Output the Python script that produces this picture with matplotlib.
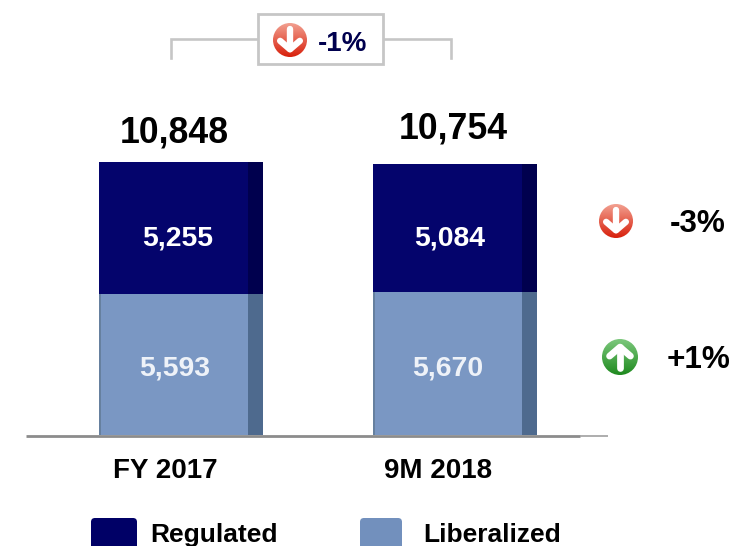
import matplotlib
matplotlib.use("Agg")
import matplotlib.pyplot as plt
import numpy as np
from matplotlib.patches import Circle, Rectangle, FancyBboxPatch

plt.rcParams['font.family'] = ['Liberation Sans', 'DejaVu Sans']

W, H = 734, 546

# data
periods = ["FY 2017", "9M 2018"]
regulated = [5255, 5084]
liberalized = [5593, 5670]
totals = [10848, 10754]
changes = ["-3%", "+1%"]
total_change = "-1%"

NAVY = "#04046c"
NAVY_DARK = "#00004e"
LIGHT = "#7a97c3"
LIGHT_DARK = "#4e6a8e"
GREY = "#c6c6c6"

fig = plt.figure(figsize=(W / 100, H / 100), dpi=100)

# bars live on a real value scale, 273 px = 10,848
ax = fig.add_axes([26 / W, (H - 435) / H, 582 / W, 273 / H])
ax.set_xlim((26 - 181) / 274, (608 - 181) / 274)
ax.set_ylim(0, totals[0])
ax.axis("off")

x = np.arange(len(periods))
bar_w = 164 / 274
strip_w = 15 / 274
ax.bar(x, liberalized, bar_w, color=LIGHT, zorder=2, clip_on=False)
ax.bar(x, regulated, bar_w, bottom=liberalized, color=NAVY, zorder=2, clip_on=False)
# darker side strip gives the fake 3d look
strip_x = x + bar_w / 2 - strip_w / 2
ax.bar(strip_x, liberalized, strip_w, color=LIGHT_DARK, zorder=3, clip_on=False)
ax.bar(strip_x, regulated, strip_w, bottom=liberalized, color=NAVY_DARK, zorder=3, clip_on=False)
# soft left edge
ax.bar(x - bar_w / 2 + 1 / 274, liberalized, 2 / 274, color="#66809f", zorder=3, clip_on=False)

# overlay in pixel coordinates for the annotations
ov = fig.add_axes([0, 0, 1, 1], zorder=5)
ov.axis("off")
ov.patch.set_alpha(0)

# baseline
ov.plot([26, 580], [435.5, 435.5], color="#8c8c8c", lw=2.0, solid_capstyle="butt")
ov.plot([580, 608], [435.5, 435.5], color="#a0a0a0", lw=1.2, solid_capstyle="butt")


def icon(cx, cy, r, top, bottom, up):
    # round button with vertical gradient and a white arrow
    grad = np.linspace(0, 1, 64).reshape(-1, 1)
    top_rgb = np.array(matplotlib.colors.to_rgb(top))
    bot_rgb = np.array(matplotlib.colors.to_rgb(bottom))
    img = top_rgb + (bot_rgb - top_rgb) * grad[..., None]
    im = ov.imshow(img, extent=(cx - r, cx + r, cy + r, cy - r), aspect="auto",
                   interpolation="bilinear", zorder=6)
    im.set_clip_path(Circle((cx, cy), r, transform=ov.transData))
    sign = -1 if up else 1
    tip = cy + sign * r * 0.55
    tail = cy - sign * r * 0.62
    wing = tip - sign * r * 0.5
    ov.plot([cx, cx], [tail, tip], color="white", lw=r * 0.27, solid_capstyle="round", zorder=8)
    ov.plot([cx - r * 0.58, cx, cx + r * 0.58], [wing, tip, wing],
            color="white", lw=r * 0.27, solid_capstyle="round", solid_joinstyle="round", zorder=8)


# bracket and change box on top
ov.plot([170.5, 170.5, 257], [58, 38.5, 38.5], color=GREY, lw=1.9, solid_joinstyle="miter")
ov.plot([383, 450.5, 450.5], [38.5, 38.5, 58], color=GREY, lw=1.9, solid_joinstyle="miter")
ov.add_patch(Rectangle((257.5, 13.5), 125, 50, fc="white", ec=GREY, lw=2.0, zorder=4))
icon(290, 40, 17, "#f2a090", "#d8200c", False)
ov.text(342.5, 44, total_change, color=NAVY_DARK, fontsize=20, fontweight="bold",
        ha="center", va="center", zorder=8)

# bar labels
total_xy = [(174.5, 133), (453.5, 129)]
for t, (tx, ty) in zip(totals, total_xy):
    ov.text(tx, ty, f"{t:,}", fontsize=25.7, fontweight="bold", color="black", ha="center", va="center")
reg_xy = [(178, 238), (450, 238)]
for v, (tx, ty) in zip(regulated, reg_xy):
    ov.text(tx, ty, f"{v:,}", fontsize=20.4, fontweight="bold", color="white", ha="center", va="center")
lib_xy = [(175, 368), (448, 368)]
for v, (tx, ty) in zip(liberalized, lib_xy):
    ov.text(tx, ty, f"{v:,}", fontsize=20.4, fontweight="bold", color="#eef2f8", ha="center", va="center")
period_x = [165, 438.5]
for p, tx in zip(periods, period_x):
    ov.text(tx, 471, p, fontsize=20, fontweight="bold", color="black", ha="center", va="center")

# right hand change column
icon(616, 221, 17, "#f2a090", "#d8200c", False)
ov.text(698, 224, changes[0], fontsize=22.7, fontweight="bold", color="black", ha="center", va="center")
icon(620, 357, 18, "#7cc87c", "#1f8a1f", True)
ov.text(699, 360, changes[1], fontsize=22.7, fontweight="bold", color="black", ha="center", va="center")

# legend, cut off by the bottom of the picture like the original
ov.add_patch(FancyBboxPatch((91, 518), 46, 40, boxstyle="round,pad=0,rounding_size=4",
                            fc="#000066", ec="none"))
ov.add_patch(FancyBboxPatch((360, 518), 42, 40, boxstyle="round,pad=0,rounding_size=4",
                            fc="#7290bd", ec="none"))
ov.text(213.5, 535, "Regulated", fontsize=19, fontweight="bold", color="black", ha="center", va="center")
ov.text(492, 535, "Liberalized", fontsize=19, fontweight="bold", color="black", ha="center", va="center")

# imshow resets the limits, so set them last
ov.set_xlim(0, W)
ov.set_ylim(H, 0)
fig.savefig("out.png", dpi=100)
